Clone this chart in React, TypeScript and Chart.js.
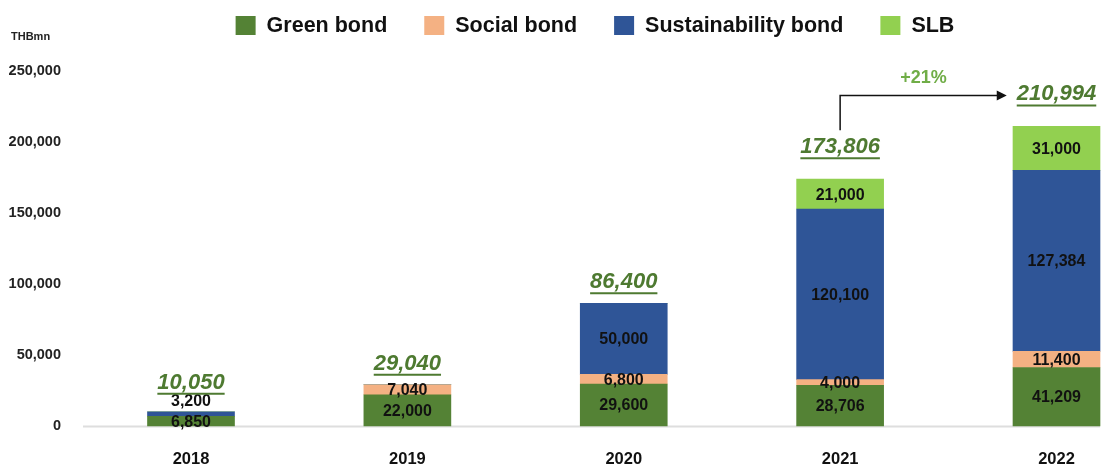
import React, { useEffect, useRef } from 'react';
import { Chart, registerables } from 'chart.js';

Chart.register(...registerables);

// ---------- data ----------
const categories = ['2018', '2019', '2020', '2021', '2022'];
const seriesNames = ['Green bond', 'Social bond', 'Sustainability bond', 'SLB'];
const greenBond = [6850, 22000, 29600, 28706, 41209];
const socialBond = [0, 7040, 6800, 4000, 11400];
const sustainabilityBond = [3200, 0, 50000, 120100, 127384];
const slb = [0, 0, 0, 21000, 31000];
const totals = [10050, 29040, 86400, 173806, 210994];
const yTicks = [0, 50000, 100000, 150000, 200000, 250000];
const unitLabel = 'THBmn';
const growthLabel = '+21%';
const growthFrom = '2021';
const growthTo = '2022';

// ---------- styles ----------
const seriesColors = ['#548235', '#F4B183', '#2F5597', '#92D050'];
const FONT = "'Liberation Sans', Arial, Helvetica, sans-serif";
const totalColor = '#4E7A31';
const growthColor = '#70AD47';
const fmt = (v: number) => v.toLocaleString('en-US');

const legendPlugin = {
  id: 'customLegend',
  afterDraw(chart: any) {
    const ctx = chart.ctx as CanvasRenderingContext2D;
    ctx.save();
    ctx.font = `bold 21.5px ${FONT}`;
    const box = 20;
    const gapText = 11;
    const gapItem = 37;
    const widths = seriesNames.map((n) => ctx.measureText(n).width);
    const total =
      widths.reduce((a, w) => a + box + gapText + w, 0) + gapItem * (seriesNames.length - 1);
    let x = 595 - total / 2;
    const cy = 25.5;
    seriesNames.forEach((name, i) => {
      ctx.fillStyle = seriesColors[i];
      ctx.fillRect(x, cy - 9.5, box, 19);
      ctx.fillStyle = '#111';
      ctx.textAlign = 'left';
      ctx.textBaseline = 'middle';
      ctx.fillText(name, x + box + gapText, cy + 1);
      x += box + gapText + widths[i] + gapItem;
    });
    // unit label
    ctx.font = `bold 11px ${FONT}`;
    ctx.fillStyle = '#222';
    ctx.textAlign = 'left';
    ctx.fillText(unitLabel, 11, 37);
    ctx.restore();
  },
};

const baselinePlugin = {
  id: 'baseline',
  beforeDatasetsDraw(chart: any) {
    const ctx = chart.ctx as CanvasRenderingContext2D;
    const y = chart.scales.y.getPixelForValue(0);
    ctx.save();
    ctx.strokeStyle = '#dedede';
    ctx.lineWidth = 2;
    ctx.beginPath();
    ctx.moveTo(83, y + 0.5);
    ctx.lineTo(chart.width - 2, y + 0.5);
    ctx.stroke();
    ctx.restore();
  },
};

const labelsPlugin = {
  id: 'valueLabels',
  afterDatasetsDraw(chart: any) {
    const ctx = chart.ctx as CanvasRenderingContext2D;
    const n = categories.length;
    const datasets = chart.data.datasets;
    const totalPos: { x: number; y: number; w: number }[] = [];
    ctx.save();
    for (let i = 0; i < n; i++) {
      let topD = -1;
      datasets.forEach((ds: any, d: number) => {
        if ((ds.data[i] as number) > 0) topD = d;
      });
      let topY = Infinity;
      let cx = 0;
      let shift = 0;
      ctx.font = `bold 16px ${FONT}`;
      ctx.fillStyle = '#111';
      ctx.textAlign = 'center';
      ctx.textBaseline = 'middle';
      datasets.forEach((ds: any, d: number) => {
        const v = ds.data[i] as number;
        if (!v) return;
        const bar = chart.getDatasetMeta(d).data[i];
        const { x, y, base } = bar.getProps(['x', 'y', 'base'], true);
        cx = x;
        topY = Math.min(topY, y);
        const h = base - y;
        let ly = (y + base) / 2 + 1;
        if (d === topD && h < 8) {
          ly = y - 10;
          shift = 8;
        }
        ctx.fillText(fmt(v), x, ly);
      });
      const isGrowth = categories[i] === growthFrom || categories[i] === growthTo;
      const ty = topY - (isGrowth ? 32 : 21) - shift;
      ctx.font = `italic bold 22px ${FONT}`;
      ctx.fillStyle = totalColor;
      const txt = fmt(totals[i]);
      const w = ctx.measureText(txt).width;
      ctx.fillText(txt, cx, ty);
      ctx.strokeStyle = totalColor;
      ctx.lineWidth = 2;
      ctx.beginPath();
      ctx.moveTo(cx - w / 2, ty + 11);
      ctx.lineTo(cx + w / 2, ty + 11);
      ctx.stroke();
      totalPos.push({ x: cx, y: ty, w });
    }
    // growth arrow
    const a = totalPos[categories.indexOf(growthFrom)];
    const b = totalPos[categories.indexOf(growthTo)];
    if (a && b) {
      const x1 = a.x;
      const y1 = a.y - 17;
      const y2 = b.y + 1;
      const x2 = b.x - b.w / 2 - 10;
      ctx.strokeStyle = '#111';
      ctx.lineWidth = 1.5;
      ctx.beginPath();
      ctx.moveTo(x1, y1);
      ctx.lineTo(x1, y2);
      ctx.lineTo(x2 - 8, y2);
      ctx.stroke();
      ctx.fillStyle = '#111';
      ctx.beginPath();
      ctx.moveTo(x2, y2);
      ctx.lineTo(x2 - 10, y2 - 5);
      ctx.lineTo(x2 - 10, y2 + 5);
      ctx.closePath();
      ctx.fill();
      ctx.font = `bold 18px ${FONT}`;
      ctx.fillStyle = growthColor;
      ctx.textAlign = 'center';
      ctx.fillText(growthLabel, (x1 + x2) / 2, y2 - 17);
    }
    ctx.restore();
  },
};

export default function App() {
  const ref = useRef<HTMLCanvasElement | null>(null);
  useEffect(() => {
    document.body.style.margin = '0';
    const canvas = ref.current;
    if (!canvas) return;
    const seriesData = [greenBond, socialBond, sustainabilityBond, slb];
    const chart = new Chart(canvas, {
      type: 'bar',
      data: {
        labels: categories,
        datasets: seriesNames.map((name, i) => ({
          label: name,
          data: seriesData[i],
          backgroundColor: seriesColors[i],
          borderWidth: 0,
          barThickness: 87,
          clip: false as any,
        })),
      },
      options: {
        responsive: false,
        animation: false,
        devicePixelRatio: 1,
        layout: { autoPadding: false, padding: { top: 71, right: 45.5, bottom: 1, left: 0 } },
        plugins: {
          legend: { display: false },
          tooltip: { enabled: false },
          title: { display: false },
        },
        scales: {
          x: {
            stacked: true,
            offset: false,
            grid: { display: false, drawTicks: false },
            border: { display: false },
            afterFit: (s: any) => {
              s.height = 41;
              s.paddingLeft = 0;
              s.paddingRight = 0;
            },
            ticks: {
              padding: 24,
              color: '#111',
              font: { family: FONT, size: 16.5, weight: 'bold' },
            },
          },
          y: {
            stacked: true,
            min: 0,
            max: 250000,
            afterBuildTicks: (s: any) => {
              s.ticks = yTicks.map((v) => ({ value: v }));
            },
            afterFit: (s: any) => {
              s.width = 191;
              s.paddingTop = 0;
              s.paddingBottom = 0;
            },
            grid: { display: false, drawTicks: false },
            border: { display: false },
            ticks: {
              padding: 130,
              color: '#222',
              font: { family: FONT, size: 14.5, weight: 'bold' },
              callback: (v: any) => fmt(Number(v)),
            },
          },
        },
      },
      plugins: [baselinePlugin, labelsPlugin, legendPlugin],
    });
    return () => chart.destroy();
  }, []);
  return (
    <div style={{ width: 1102, height: 468, background: '#fff' }}>
      <canvas ref={ref} width={1102} height={468} style={{ display: 'block' }} />
    </div>
  );
}
